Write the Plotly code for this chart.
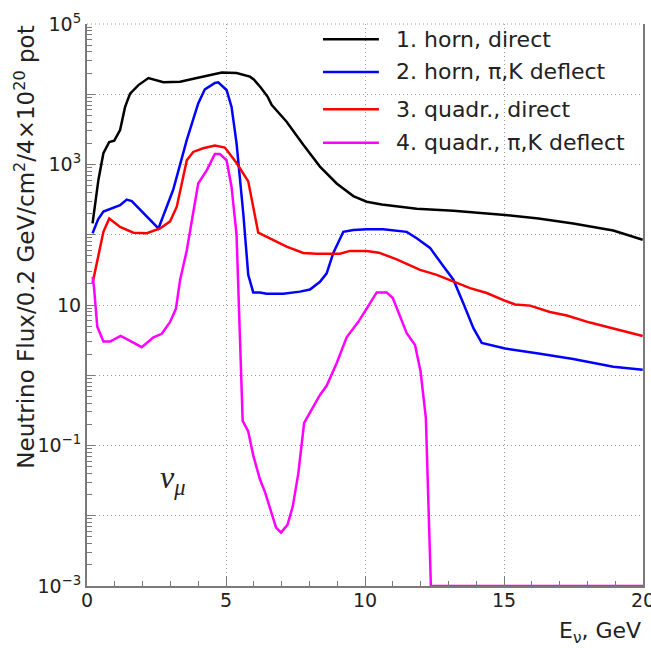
import plotly.graph_objects as go

# Neutrino energy (GeV) and muon-neutrino flux per 0.2 GeV/cm^2/4x10^20 pot
e_horn_direct = [0.2, 0.41, 0.59, 0.80, 0.98, 1.19, 1.37, 1.55, 1.85, 2.21, 2.75, 3.35, 3.95,
                 4.42, 4.85, 5.38, 5.86, 6.0, 6.25, 6.5, 6.64, 7.18, 7.78, 8.38, 8.74, 8.98,
                 9.58, 10.06, 10.6, 11.86, 13.18, 14.14, 15.04, 16.24, 17.49, 18.93, 19.99]
flux_horn_direct = [145, 603, 1445, 2090, 2190, 3090, 6610, 10200, 13500, 17000, 14800, 15100, 17000,
                    18600, 20400, 20000, 17800, 16200, 12500, 9200, 7080, 4070, 1905, 933, 676, 537,
                    355, 295, 269, 234, 219, 204, 191, 170, 145, 115, 85]

e_horn_defl = [0.2, 0.4, 0.59, 0.95, 1.19, 1.43, 1.61, 2.57, 3.10, 3.59, 4.00, 4.24, 4.60, 4.72,
               5.02, 5.20, 5.38, 5.62, 5.80, 5.98, 6.22, 6.46, 7.06, 7.66, 8.02, 8.38, 8.62, 8.86,
               9.22, 9.58, 10.06, 10.66, 11.50, 11.86, 12.34, 12.82, 13.18, 13.54, 13.90, 14.20,
               14.86, 15.04, 16.24, 17.49, 18.93, 19.99]
flux_horn_defl = [105, 166, 214, 240, 263, 316, 302, 123, 437, 2240, 7410, 11750, 14450, 14800,
                  11500, 6600, 2000, 204, 26.9, 15.1, 15.1, 14.5, 14.5, 15.5, 16.6, 21.4, 28.2, 55,
                  110, 117, 120, 120, 110, 89, 65, 35.5, 22.9, 10.5, 4.68, 2.88,
                  2.51, 2.40, 2.04, 1.70, 1.32, 1.20]

e_quad_direct = [0.2, 0.59, 0.80, 1.19, 1.67, 2.15, 2.63, 2.99, 3.23, 3.59, 3.82, 4.18, 4.60, 4.96,
                 5.38, 5.80, 6.16, 6.58, 7.18, 7.78, 8.26, 9.10, 9.46, 10.06, 10.50, 11.14, 11.98,
                 12.58, 13.18, 13.78, 14.38, 14.98, 15.40, 15.94, 16.65, 17.26, 18.09, 19.17, 19.99]
flux_quad_direct = [20.4, 110, 170, 129, 107, 105, 123, 155, 251, 1150, 1510, 1700, 1860, 1740,
                    1050, 575, 107, 89, 67.6, 55, 53.7, 53.7, 58.9, 58.9, 55.6, 44.7, 31.6,
                    26.9, 21.4, 17.4, 14.8, 11.7, 10.2, 9.8, 7.94, 7.08, 5.62, 4.37, 3.63]

e_quad_defl = [0.2, 0.25, 0.37, 0.59, 0.83, 1.21, 1.55, 1.97, 2.39, 2.69, 2.99, 3.20, 3.35, 3.59,
               4.00, 4.31, 4.60, 4.78, 5.02, 5.20, 5.38, 5.48, 5.60, 5.80, 5.98, 6.22, 6.40, 6.58,
               6.80, 6.98, 7.21, 7.40, 7.60, 7.81, 8.08, 8.38, 8.62, 8.98, 9.34, 9.76, 10.06,
               10.42, 10.78, 11.00, 11.50, 11.80, 12.0, 12.19, 12.37, 12.4, 20.0]
flux_quad_defl = [25.1, 18.2, 4.9, 3.02, 3.02, 3.63, 3.09, 2.51, 3.47, 3.89, 5.75, 8.9, 22.9, 60,
                  537, 832, 1410, 1410, 1150, 479, 100, 4.5, 0.224, 0.158, 0.0724, 0.0331, 0.0219, 0.0129,
                  0.00676, 0.00575, 0.00741, 0.0135, 0.0398, 0.209, 0.324, 0.525, 0.708, 1.48, 3.47, 5.75, 8.9,
                  15.1, 15.1, 12.6, 3.98, 2.69, 1.12, 0.245, 0.001, 0.001, 0.001]

series_names = ["1. horn, direct", "2. horn, \u03c0,K deflect",
                "3. quadr., direct", "4. quadr., \u03c0,K deflect"]
series_colors = ["#000000", "#0000ff", "#ff0000", "#ff00ff"]

x_tickvals = [0, 5, 10, 15, 20]
y_tickvals = [1e-3, 1e-2, 1e-1, 1, 10, 1e2, 1e3, 1e4, 1e5]
y_ticktext = ["10<sup>\u22123</sup>", "", "10<sup>\u22121</sup>", "", "10", "",
              "10<sup>3</sup>", "", "10<sup>5</sup>"]
y_minor = [m * 10.0 ** k for k in range(-3, 5) for m in range(2, 10)]

xs = [e_horn_direct, e_horn_defl, e_quad_direct, e_quad_defl]
ys = [flux_horn_direct, flux_horn_defl, flux_quad_direct, flux_quad_defl]

FONT = "DejaVu Sans"
TXT = "#222222"
AXC = "#7a7a7a"
GRID = "#9a9a9a"

fig = go.Figure()
for x, y, name, col in zip(xs, ys, series_names, series_colors):
    fig.add_trace(go.Scatter(x=x, y=y, mode="lines", name=name,
                             line=dict(color=col, width=2.5), cliponaxis=False,
                             showlegend=False))

# legend: sample line + label for each series
legend_y = [0.9728, 0.9146, 0.8482, 0.7888]
for name, col, ly in zip(series_names, series_colors, legend_y):
    fig.add_shape(type="line", xref="paper", yref="paper", x0=0.4245, x1=0.525,
                  y0=ly, y1=ly, line=dict(color=col, width=2.5))
    fig.add_annotation(xref="paper", yref="paper", x=0.5522, y=ly, text=name,
                       xanchor="left", yanchor="middle", showarrow=False,
                       font=dict(family=FONT, size=22, color=TXT))

# dotted top frame
fig.add_shape(type="line", xref="paper", yref="paper", x0=0, x1=1, y0=1, y1=1,
              line=dict(color=GRID, width=1, dash="1px,3px"))

# axis titles and particle label
fig.add_annotation(xref="paper", yref="paper", x=-0.113, y=1.0, textangle=-90,
                   text="Neutrino Flux/0.2 GeV/cm<sup>2</sup>/4\u00d710<sup>20</sup> pot",
                   xanchor="center", yanchor="top", showarrow=False,
                   font=dict(family=FONT, size=23, color=TXT))
fig.add_annotation(xref="paper", yref="paper", x=1.0, y=-0.082,
                   text="E<sub>\u03bd</sub>, GeV", xanchor="right", yanchor="middle",
                   showarrow=False, font=dict(family=FONT, size=22, color=TXT))
fig.add_annotation(xref="paper", yref="paper", x=0.153, y=0.189,
                   text="<i>\u03bd</i><sub><i>\u03bc</i></sub>", xanchor="center",
                   yanchor="middle", showarrow=False,
                   font=dict(family="Liberation Serif", size=32, color=TXT))

fig.update_xaxes(range=[0, 20], tickmode="array", tickvals=x_tickvals,
                 ticks="inside", ticklen=10, tickwidth=1, tickcolor=AXC,
                 showline=True, linecolor=AXC, linewidth=2,
                 showgrid=True, gridcolor=GRID, gridwidth=1, griddash="1px,3px",
                 zeroline=False, ticklabeloverflow="allow", automargin=False,
                 ticklabelstandoff=-4,
                 tickfont=dict(family=FONT, size=19, color=TXT),
                 minor=dict(tickmode="linear", tick0=0, dtick=1, ticks="inside",
                            ticklen=5, tickcolor=AXC, showgrid=False))
fig.update_yaxes(type="log", range=[-3, 5], tickmode="array", tickvals=y_tickvals,
                 ticktext=y_ticktext, ticks="inside", ticklen=8, tickwidth=1, tickcolor=AXC,
                 showline=True, linecolor=AXC, linewidth=2, mirror=True,
                 showgrid=True, gridcolor=GRID, gridwidth=1, griddash="1px,3px",
                 zeroline=False, ticklabeloverflow="allow", automargin=False,
                 tickfont=dict(family=FONT, size=19, color=TXT),
                 minor=dict(tickmode="array", tickvals=y_minor, ticks="inside",
                            ticklen=5, tickcolor=AXC, showgrid=False))

fig.update_layout(width=651, height=648, autosize=False,
                  margin=dict(l=87, r=8, t=24, b=62),
                  paper_bgcolor="white", plot_bgcolor="white",
                  showlegend=False)

fig.write_html("out.html")
